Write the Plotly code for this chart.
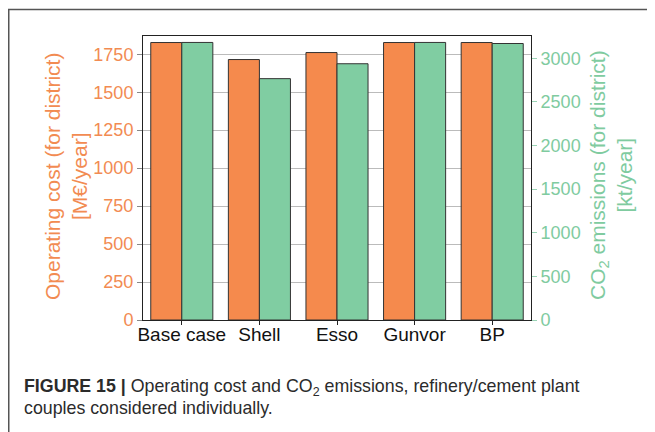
import plotly.graph_objects as go

categories = ["Base case", "Shell", "Esso", "Gunvor", "BP"]
operating_cost = [1827, 1715, 1761, 1827, 1827]     # M€/year
co2_emissions = [3182, 2767, 2938, 3182, 3170]      # kt/year
left_ticks = [0, 250, 500, 750, 1000, 1250, 1500, 1750]
right_ticks = [0, 500, 1000, 1500, 2000, 2500, 3000]

ORANGE = "#F58A4D"
GREEN = "#80CDA2"
ORANGE_TXT = "#F28B52"
GREEN_TXT = "#80CBA0"
FONT = "Liberation Sans, Arial, sans-serif"

# page offset of the plot div (browser default body margin)
OFF = 8
W, H = 655 - OFF, 432 - OFF
# plot area in page pixels
PL, PR, PT, PB = 143, 531, 36, 320
L, R, T, B = PL - OFF, W - (PR - OFF), PT - OFF, H - (PB - OFF)
PW, PH = PR - PL, PB - PT

def px_x(px):
    return (px - PL) / PW

def px_y(py):
    return (PB - py) / PH

fig = go.Figure()
fig.add_trace(go.Bar(
    x=categories, y=operating_cost, yaxis="y", width=0.4, offset=-0.4,
    marker=dict(color=ORANGE, line=dict(color="#333333", width=1)),
    name="Operating cost", showlegend=False,
))
fig.add_trace(go.Bar(
    x=categories, y=co2_emissions, yaxis="y2", width=0.4, offset=0.0,
    marker=dict(color=GREEN, line=dict(color="#333333", width=1)),
    name="CO2 emissions", showlegend=False,
))

fig.update_layout(
    width=W, height=H,
    margin=dict(l=L, r=R, t=T, b=B, pad=0),
    paper_bgcolor="white", plot_bgcolor="white",
    font=dict(family=FONT),
    barmode="overlay",
    xaxis=dict(
        type="category", range=[-0.5, 4.5],
        showline=True, linecolor="#222222", linewidth=1, mirror=True,
        ticks="outside", ticklen=4, tickcolor="#222222",
        tickfont=dict(size=19, color="#111111", family=FONT),
        ticklabelstandoff=-7,
        showgrid=False, zeroline=False,
    ),
    yaxis=dict(
        range=[0, 1870], tickvals=left_ticks,
        showline=True, linecolor="#222222", linewidth=1,
        ticks="outside", ticklen=5, tickcolor="#888888",
        tickfont=dict(size=18, color=ORANGE_TXT, family=FONT),
        showgrid=True, gridcolor="#BBBBBB", gridwidth=1, zeroline=False,
    ),
    yaxis2=dict(
        range=[0, 3256], tickvals=right_ticks, overlaying="y", side="right",
        showline=True, linecolor="#222222", linewidth=1,
        ticks="outside", ticklen=5, tickcolor="#9AD3B5",
        tickfont=dict(size=18, color=GREEN_TXT, family=FONT),
        showgrid=False, zeroline=False,
    ),
)

# outer figure frame
fig.add_shape(type="rect", xref="paper", yref="paper",
              x0=px_x(8.75), x1=px_x(700), y0=px_y(470), y1=px_y(9.5),
              line=dict(color="#555555", width=1.5), fillcolor="rgba(0,0,0,0)",
              layer="below")

# axis titles
fig.add_annotation(text="Operating cost (for district)<br>[M€/year]",
                   xref="paper", yref="paper", x=px_x(66), y=px_y(177),
                   xanchor="center", yanchor="middle", textangle=-90,
                   showarrow=False, font=dict(size=21, color=ORANGE_TXT, family=FONT))
fig.add_annotation(text="CO<sub>2</sub> emissions (for district)<br>[kt/year]",
                   xref="paper", yref="paper", x=px_x(611), y=px_y(175),
                   xanchor="center", yanchor="middle", textangle=-90,
                   showarrow=False, font=dict(size=21, color=GREEN_TXT, family=FONT))

# caption
fig.add_annotation(text="<b>FIGURE 15 |</b> Operating cost and CO<sub>2</sub> emissions, refinery/cement plant",
                   xref="paper", yref="paper", x=px_x(22), y=px_y(387.5),
                   xanchor="left", yanchor="middle", showarrow=False,
                   font=dict(size=17.8, color="#2B2B2B", family=FONT))
fig.add_annotation(text="couples considered individually.",
                   xref="paper", yref="paper", x=px_x(22), y=px_y(407.5),
                   xanchor="left", yanchor="middle", showarrow=False,
                   font=dict(size=17.8, color="#2B2B2B", family=FONT))

fig.write_html("out.html")
